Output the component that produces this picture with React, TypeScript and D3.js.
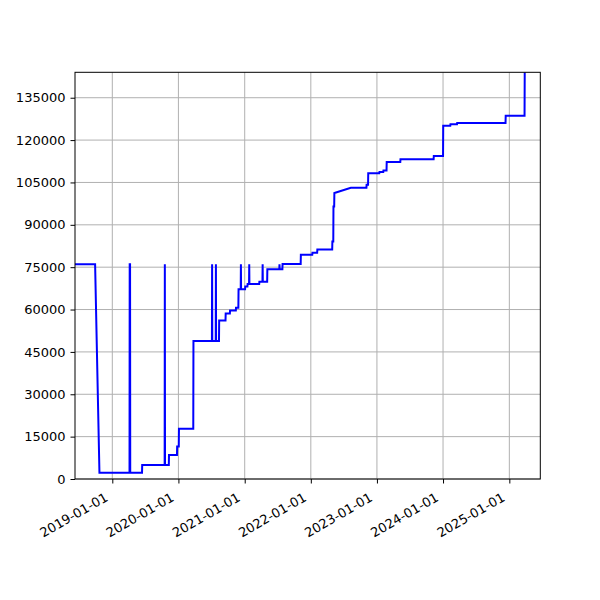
import React, { useEffect, useRef } from 'react';
import * as d3 from 'd3';

// raw samples (value holds between consecutive-day pairs)
const sampleDates = [
  '2018-06-09', '2018-09-28', '2018-10-22', '2019-04-06', '2019-04-07', '2019-04-09', '2019-04-10',
  '2019-06-14', '2019-06-15', '2019-10-17', '2019-10-18', '2019-10-19', '2019-11-09', '2019-11-10',
  '2019-12-24', '2019-12-25', '2020-01-03', '2020-01-04', '2020-03-23', '2020-03-24',
  '2020-07-04', '2020-07-05', '2020-07-06', '2020-07-25', '2020-07-26', '2020-07-27',
  '2020-08-12', '2020-08-13', '2020-09-17', '2020-09-18', '2020-10-11', '2020-10-12',
  '2020-11-13', '2020-11-14', '2020-11-27', '2020-11-28', '2020-12-10', '2020-12-11', '2020-12-12',
  '2021-01-03', '2021-01-04', '2021-01-16', '2021-01-17', '2021-01-25', '2021-01-26', '2021-01-27',
  '2021-03-22', '2021-03-23', '2021-04-09', '2021-04-10', '2021-04-11', '2021-05-05', '2021-05-06',
  '2021-07-11', '2021-07-12', '2021-07-13', '2021-07-28', '2021-07-29', '2021-11-06', '2021-11-07',
  '2022-01-09', '2022-01-10', '2022-02-05', '2022-02-06', '2022-04-29', '2022-04-30',
  '2022-05-05', '2022-05-06', '2022-05-10', '2022-05-11', '2022-05-20', '2022-08-10',
  '2022-11-04', '2022-11-05', '2022-11-13', '2022-11-14', '2023-01-14', '2023-01-15',
  '2023-02-05', '2023-02-06', '2023-02-23', '2023-02-24', '2023-05-10', '2023-05-11',
  '2023-11-10', '2023-11-11', '2024-01-01', '2024-01-02', '2024-02-10', '2024-02-11',
  '2024-03-18', '2024-03-19', '2024-12-11', '2024-12-12', '2025-03-26', '2025-03-27',
];

const sampleValues = [
  76000, 76000, 2200, 2200, 76000, 76000, 2200,
  2200, 5000, 5000, 76000, 5000, 5000, 8500,
  8500, 11500, 11500, 17800, 17800, 48900,
  48900, 76000, 48900, 48900, 76000, 48900,
  48900, 56100, 56100, 58600, 58600, 59700,
  59700, 60600, 60600, 67200, 67200, 76000, 67200,
  67200, 68150, 68150, 69000, 69000, 76000, 69000,
  69000, 69800, 69800, 76000, 69800, 69800, 74300,
  74300, 76000, 74300, 74300, 76100, 76100, 79400,
  79400, 80100, 80100, 81300, 81300, 84100,
  84100, 96500, 96500, 101250, 101450, 103100,
  103100, 104200, 104200, 108300, 108300, 108700,
  108700, 109200, 109200, 112200, 112200, 113200,
  113200, 114400, 114400, 125100, 125100, 125600,
  125600, 126050, 126050, 128650, 128650, 144000,
];

const yTicks = [0, 15000, 30000, 45000, 60000, 75000, 90000, 105000, 120000, 135000];
const xTicks = ['2019-01-01', '2020-01-01', '2021-01-01', '2022-01-01', '2023-01-01', '2024-01-01', '2025-01-01'];
const xRange = ['2018-06-09', '2025-06-21'];
const yMax = 144000;

const App: React.FC = () => {
  const svgRef = useRef<SVGSVGElement>(null);

  useEffect(() => {
    const svg = d3.select(svgRef.current);
    svg.selectAll('*').remove();

    const margin = { top: 72.3, right: 59.7, bottom: 121, left: 75 };
    const width = 600 - margin.left - margin.right;
    const height = 600 - margin.top - margin.bottom;
    const parse = d3.utcParse('%Y-%m-%d');

    const x = d3.scaleUtc()
      .domain(xRange.map(d => parse(d)!))
      .range([0, width]);
    const y = d3.scaleLinear()
      .domain([0, yMax])
      .range([height, 0]);

    const g = svg.append('g').attr('transform', `translate(${margin.left},${margin.top})`);

    // grid
    g.append('g')
      .selectAll('line')
      .data(xTicks)
      .enter()
      .append('line')
      .attr('x1', d => x(parse(d)!))
      .attr('x2', d => x(parse(d)!))
      .attr('y1', 0)
      .attr('y2', height)
      .attr('stroke', '#b0b0b0')
      .attr('stroke-width', 1);
    g.append('g')
      .selectAll('line')
      .data(yTicks)
      .enter()
      .append('line')
      .attr('x1', 0)
      .attr('x2', width)
      .attr('y1', d => y(d))
      .attr('y2', d => y(d))
      .attr('stroke', '#b0b0b0')
      .attr('stroke-width', 1);

    svg.append('defs')
      .append('clipPath')
      .attr('id', 'plot-clip')
      .append('rect')
      .attr('width', width)
      .attr('height', height);

    const points: [Date, number][] = sampleDates.map((d, i) => [parse(d)!, sampleValues[i]]);
    const line = d3.line<[Date, number]>()
      .x(d => x(d[0]))
      .y(d => y(d[1]));

    g.append('path')
      .datum(points)
      .attr('clip-path', 'url(#plot-clip)')
      .attr('d', line)
      .attr('fill', 'none')
      .attr('stroke', 'blue')
      .attr('stroke-width', 2)
      .attr('stroke-linejoin', 'miter');

    // y axis
    const yAxisG = g.append('g')
      .call(d3.axisLeft(y).tickValues(yTicks).tickSize(4.5).tickPadding(5).tickFormat(d => String(d)));
    yAxisG.selectAll('text')
      .attr('fill', 'black')
      .attr('font-size', 13)
      .attr('font-family', 'DejaVu Sans');
    yAxisG.select('.domain').remove();

    // x axis
    const xAxisG = g.append('g')
      .attr('transform', `translate(0,${height})`)
      .call(d3.axisBottom(x).tickValues(xTicks.map(d => parse(d)!)).tickSize(4.5).tickFormat(d3.utcFormat('%Y-%m-%d') as any));
    xAxisG.select('.domain').remove();
    xAxisG.selectAll('text')
      .attr('fill', 'black')
      .attr('font-size', 13)
      .attr('font-family', 'DejaVu Sans')
      .attr('y', 0)
      .attr('dy', 0)
      .attr('transform', 'translate(-4,21) rotate(-30)')
      .style('text-anchor', 'end');

    // frame
    g.append('rect')
      .attr('width', width)
      .attr('height', height)
      .attr('fill', 'none')
      .attr('stroke', 'black')
      .attr('stroke-width', 1);
  }, []);

  return (
    <div style={{ position: 'absolute', left: 0, top: 0, width: 600, height: 600, background: 'white' }}>
      <svg ref={svgRef} width={600} height={600}></svg>
    </div>
  );
};

export default App;
